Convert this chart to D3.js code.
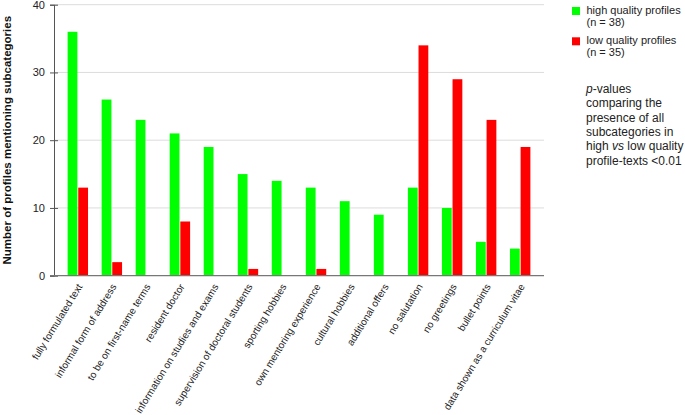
<!DOCTYPE html>
<html>
<head>
<meta charset="utf-8">
<script src="https://cdn.jsdelivr.net/npm/d3@7"></script>
<style>
  html, body { margin: 0; padding: 0; background: #fff; }
  svg { display: block; font-family: "Liberation Sans", Arial, Helvetica, sans-serif; }
</style>
</head>
<body>
<svg id="chart" width="685" height="415"></svg>
<script>
const categories = [
  "fully formulated text",
  "informal form of address",
  "to be on first-name terms",
  "resident doctor",
  "information on studies and exams",
  "supervision of doctoral students",
  "sporting hobbies",
  "own mentoring experience",
  "cultural hobbies",
  "additional offers",
  "no salutation",
  "no greetings",
  "bullet points",
  "data shown as a curriculum vitae"
];
const highQuality = [36, 26, 23, 21, 19, 15, 14, 13, 11, 9, 13, 10, 5, 4];
const lowQuality  = [13, 2, 0, 8, 0, 1, 0, 1, 0, 0, 34, 29, 23, 19];
const seriesNames = ["high quality profiles", "low quality profiles"];
const seriesN = ["(n = 38)", "(n = 35)"];
const seriesColors = ["#00ff00", "#ff0000"];
const yTicks = [0, 10, 20, 30, 40];
const yLabel = "Number of profiles mentioning subcategories";
const noteLines = [
  [{t: "p", i: true}, {t: "-values", i: false}],
  [{t: "comparing the", i: false}],
  [{t: "presence of all", i: false}],
  [{t: "subcategories in", i: false}],
  [{t: "high ", i: false}, {t: "vs", i: true}, {t: " low quality", i: false}],
  [{t: "profile-texts <0.01", i: false}]
];

const svg = d3.select("#chart");
const mLeft = 54, mRight = 544, mTop = 4.7, mBottom = 275.7;

const x = d3.scaleBand().domain(categories).range([mLeft, mRight]).paddingInner(0.4).paddingOuter(0.4);
const xs = d3.scaleBand().domain([0, 1]).range([0, x.bandwidth()]).paddingInner(0.08);
const y = d3.scaleLinear().domain([0, 40]).range([mBottom, mTop]);

// grid
svg.append("g").selectAll("line").data(yTicks.filter(d => d > 0)).join("line")
  .attr("x1", mLeft).attr("x2", mRight)
  .attr("y1", d => y(d)).attr("y2", d => y(d))
  .attr("stroke", "#dcdcdc").attr("stroke-width", 1);

// bars
const data = categories.map((c, i) => ({c, v: [highQuality[i], lowQuality[i]]}));
const groups = svg.append("g").selectAll("g").data(data).join("g")
  .attr("transform", d => `translate(${x(d.c)},0)`);
groups.selectAll("rect").data(d => d.v.map((v, k) => ({v, k})).filter(e => e.v > 0)).join("rect")
  .attr("x", d => xs(d.k)).attr("width", xs.bandwidth())
  .attr("y", d => y(d.v)).attr("height", d => y(0) - y(d.v))
  .attr("fill", d => seriesColors[d.k]);

// y axis
const yAxis = svg.append("g").attr("transform", `translate(${mLeft},0)`)
  .call(d3.axisLeft(y).tickValues(yTicks).tickSize(4).tickPadding(5));
yAxis.select(".domain").attr("stroke", "#555");
yAxis.selectAll(".tick line").attr("stroke", "#555").attr("x1", 4);
yAxis.selectAll("text").attr("font-size", 11).attr("fill", "#222").attr("font-family", "Liberation Sans, Arial, sans-serif");

// x axis line
svg.append("line").attr("x1", mLeft - 4).attr("x2", mRight)
  .attr("y1", mBottom).attr("y2", mBottom).attr("stroke", "#777").attr("stroke-width", 1.2);

// x labels
svg.append("g").selectAll("text").data(categories).join("text")
  .attr("transform", d => `translate(${x(d) + x.bandwidth() / 2 + 2},${mBottom + 9}) rotate(-58.5)`)
  .attr("text-anchor", "end").attr("dy", "0.35em")
  .attr("font-size", 10).attr("fill", "#222")
  .text(d => d);

// y label
svg.append("text")
  .attr("transform", `translate(11,${(mTop + mBottom) / 2}) rotate(-90)`)
  .attr("text-anchor", "middle").attr("font-size", 11.5).attr("font-weight", "bold")
  .attr("fill", "#111").text(yLabel);

// legend
const lg = svg.append("g").attr("transform", "translate(572,0)");
seriesNames.forEach((name, i) => {
  const yy = 14 + i * 30.3;
  lg.append("rect").attr("x", 0).attr("y", yy - 7).attr("width", 8).attr("height", 8).attr("fill", seriesColors[i]);
  lg.append("text").attr("x", 14.5).attr("y", yy).attr("font-size", 11).attr("fill", "#222").text(name);
  lg.append("text").attr("x", 14.5).attr("y", yy + 11.7).attr("font-size", 11).attr("fill", "#222").text(seriesN[i]);
});

// note
const note = svg.append("text").attr("x", 586).attr("y", 93).attr("font-size", 12).attr("fill", "#222");
noteLines.forEach((line, li) => {
  line.forEach((seg, si) => {
    const ts = note.append("tspan").text(seg.t).attr("font-style", seg.i ? "italic" : "normal");
    if (si === 0) ts.attr("x", 586).attr("dy", li === 0 ? 0 : 14.3);
  });
});
</script>
</body>
</html>
